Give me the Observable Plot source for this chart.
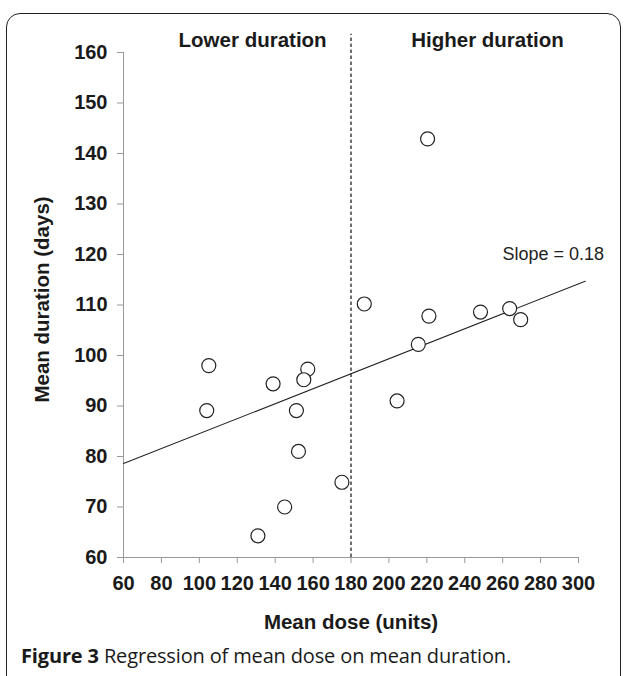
<!DOCTYPE html>
<html>
<head>
<meta charset="utf-8">
<script src="https://cdn.jsdelivr.net/npm/d3@7"></script>
<script src="https://cdn.jsdelivr.net/npm/@observablehq/plot@0.6"></script>
<style>
  html, body { margin: 0; padding: 0; background: #fff; }
  body { width: 624px; height: 676px; position: relative; overflow: hidden; font-family: "Liberation Sans", Arial, sans-serif; }
  #frame { position: absolute; left: 6px; top: 13px; width: 615px; height: 720px; border: 1.5px solid #222; border-radius: 14px; box-sizing: border-box; }
  #chart { position: absolute; left: 0; top: 0; }
  #caption { position: absolute; left: 21px; top: 642px; font-family: "Open Sans", "Liberation Sans", sans-serif; font-size: 20px; line-height: 27px; color: #1a1a1a; letter-spacing: -0.15px; white-space: nowrap; }
  #caption b { font-weight: 700; }
</style>
</head>
<body>
<div id="frame"></div>
<div id="chart"></div>
<div id="caption"><b>Figure 3</b> Regression of mean dose on mean duration.</div>
<script>
// Data
const dose     = [105, 103.9, 138.9, 157.2, 155.1, 151.2, 152.3, 175.2, 145, 130.9, 187, 204.3, 220.4, 221.1, 248.3, 263.7, 269.5, 215.5];
const duration = [98, 89.1, 94.4, 97.3, 95.2, 89.1, 81, 74.9, 70, 64.3, 110.2, 91, 142.9, 107.8, 108.6, 109.3, 107.1, 102.2];
const points = dose.map((d, i) => ({dose: d, duration: duration[i]}));

const fitX = [60, 303.5];
const fitY = [78.6, 114.7];
const fitLine = fitX.map((x, i) => ({x, y: fitY[i]}));

const splitDose = 180;
const splitTop = 163.6;

const xTicks = [60, 80, 100, 120, 140, 160, 180, 200, 220, 240, 260, 280, 300];
const yTicks = [60, 70, 80, 90, 100, 110, 120, 130, 140, 150, 160];

const groupLabels = ["Lower duration", "Higher duration"];
const groupX = [128.1, 252];
const groupY = [162.4, 162.4];
const groups = groupLabels.map((t, i) => ({t, x: groupX[i], y: groupY[i]}));

const slopeLabel = [{t: "Slope = 0.18", x: 286.7, y: 120.1}];

const yTitle = [{t: "Mean duration (days)", x: 60, y: 111.1}];

const FONT = "Liberation Sans, Arial, sans-serif";

const chart = Plot.plot({
  width: 624,
  height: 640,
  marginLeft: 123,
  marginRight: 46,
  marginTop: 52,
  marginBottom: 83,
  style: {fontFamily: FONT, background: "transparent", overflow: "visible"},
  x: {domain: [60, 300]},
  y: {domain: [60, 160]},
  marks: [
    Plot.ruleX([60], {y1: 60, y2: 160, stroke: "#999", strokeWidth: 1}),
    Plot.ruleY([60], {x1: 60, x2: 300, stroke: "#999", strokeWidth: 1}),
    Plot.axisY({ticks: yTicks, tickSize: 6, text: null, stroke: "#999", label: null}),
    Plot.axisY({ticks: yTicks, tickSize: 0, tickPadding: 16, fill: "#1a1a1a", fontSize: 20, fontWeight: "bold", label: null}),
    Plot.axisX({ticks: xTicks, tickSize: 6, text: null, stroke: "#999", label: null}),
    Plot.axisX({ticks: xTicks, tickSize: 0, tickPadding: 18, fill: "#1a1a1a", fontSize: 20, fontWeight: "bold", label: null}),
    Plot.text(yTitle, {x: "x", y: "y", text: "t", rotate: -90, dx: -81, lineAnchor: "middle", fontSize: 20.5, fontWeight: "bold", fill: "#1a1a1a"}),
    Plot.text(["Mean dose (units)"], {frameAnchor: "bottom", dy: 65, lineAnchor: "middle", fontSize: 20.5, fontWeight: "bold", fill: "#1a1a1a"}),
    Plot.ruleX([splitDose], {y1: 60, y2: splitTop, stroke: "#111", strokeWidth: 1.2, strokeDasharray: "3.5,2.5"}),
    Plot.line(fitLine, {x: "x", y: "y", stroke: "#222", strokeWidth: 1.1}),
    Plot.dot(points, {x: "dose", y: "duration", r: 7, fill: "white", stroke: "#222", strokeWidth: 1.2}),
    Plot.text(groups, {x: "x", y: "y", text: "t", fontSize: 20.5, fontWeight: "bold", fill: "#1a1a1a"}),
    Plot.text(slopeLabel, {x: "x", y: "y", text: "t", fontSize: 18, fill: "#222"})
  ]
});
document.getElementById("chart").appendChild(chart);
</script>
</body>
</html>
